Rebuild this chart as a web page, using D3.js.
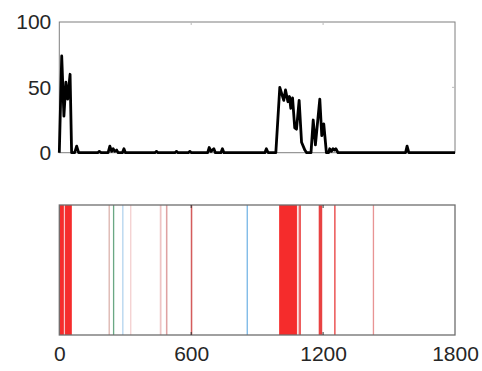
<!DOCTYPE html>
<html>
<head>
<meta charset="utf-8">
<script src="https://cdn.jsdelivr.net/npm/d3@7"></script>
<style>
  html, body { margin: 0; padding: 0; background: #fff; }
  svg { display: block; }
  text { font-family: "Liberation Sans", Arial, sans-serif; fill: #262626; }
</style>
</head>
<body>
<svg id="chart" width="482" height="371"></svg>
<script>
// ---- Data ----
const lineTimes  = [0, 11, 21, 30, 38, 49, 56, 70, 79, 88, 175, 182, 190, 222, 230, 238, 245, 252, 261, 268,
  287, 294, 301, 435, 442, 449, 526, 533, 540, 587, 594, 601, 675, 682, 690, 703, 710, 735, 742, 749,
  935, 942, 950, 985, 1003, 1012, 1021, 1029, 1040, 1047, 1053, 1061, 1071, 1079, 1091, 1102, 1117, 1125,
  1145, 1155, 1165, 1185, 1194, 1203, 1215, 1225, 1230, 1238, 1245, 1252, 1258, 1268, 1575, 1582, 1590, 1800];
const lineValues = [0, 74, 28, 54, 41, 60, 0, 0, 5, 0, 0, 1, 0, 0, 5, 1, 3, 1, 2, 0,
  0, 3, 0, 0, 1, 0, 0, 1, 0, 0, 1, 0, 0, 4, 1, 3, 0, 0, 3, 0,
  0, 3, 0, 0, 50, 45, 40, 48, 39, 43, 34, 42, 19, 18, 40, 8, 2, 0,
  0, 25, 6, 41, 13, 22, 0, 0, 3, 1, 3, 2, 3, 0, 0, 5, 0, 0];

const eventStarts = [0, 26, 21, 224, 244, 286, 322, 457, 485, 598, 852, 1000, 1084, 1091, 1180, 1250, 1426];
const eventEnds   = [21, 57, 26, 230, 250, 292, 328, 465, 492, 605, 858, 1081, 1090, 1099, 1196, 1257, 1432];
const eventColors = ["#f52c2c", "#f52c2c", "#f7c4c4", "#dcb4ae", "#6aa884", "#b4d4ee", "#f4d0d0", "#eec4c4",
  "#dfa2a2", "#d45c5c", "#7ab8e6", "#f52c2c", "#f5b8b8", "#ec4c4c", "#e84242", "#ec5a5a", "#e89494"];

const xTicks = [0, 600, 1200, 1800];
const yTicks = [0, 50, 100];

// ---- Layout ----
const svg = d3.select("#chart");
const left = 59.3, right = 455;
const top1 = 22, bot1 = 152.7;
const top2 = 205, bot2 = 335;
const axisColor = "#7f7f7f";

const x = d3.scaleLinear().domain([0, 1800]).range([left, right]);
const y = d3.scaleLinear().domain([0, 100]).range([bot1, top1]);

// ---- Top panel ----
const g1 = svg.append("g");
g1.append("rect").attr("x", left).attr("y", top1).attr("width", right - left).attr("height", bot1 - top1)
  .attr("fill", "#fff").attr("stroke", axisColor).attr("stroke-width", 1);

xTicks.slice(1, -1).forEach(t => {
  g1.append("line").attr("x1", x(t)).attr("x2", x(t)).attr("y1", top1).attr("y2", top1 + 3)
    .attr("stroke", "#bbb").attr("stroke-width", 1);
});
yTicks.slice(1, -1).forEach(t => {
  g1.append("line").attr("x1", right).attr("x2", right - 3).attr("y1", y(t)).attr("y2", y(t))
    .attr("stroke", "#bbb").attr("stroke-width", 1);
});

const yAxis = d3.axisLeft(y).tickValues(yTicks).tickSize(0).tickPadding(8).tickFormat(d3.format("d"));
const ya = g1.append("g").attr("transform", `translate(${left},0)`).call(yAxis);
ya.select(".domain").remove();
ya.selectAll("text").attr("font-size", 21).attr("font-family", "Liberation Sans, Arial, sans-serif")
  .attr("fill", "#2b2b2b");

const lineData = lineTimes.map((t, i) => [t, lineValues[i]]);
const line = d3.line().x(d => x(d[0])).y(d => y(d[1]));
g1.append("path").datum(lineData).attr("d", line).attr("fill", "none")
  .attr("stroke", "#000").attr("stroke-width", 2.8).attr("stroke-linejoin", "round");

// ---- Bottom panel ----
const g2 = svg.append("g");
g2.append("rect").attr("x", left).attr("y", top2).attr("width", right - left).attr("height", bot2 - top2)
  .attr("fill", "#fff");

const events = eventStarts.map((s, i) => ({ s, e: eventEnds[i], c: eventColors[i] }));
g2.selectAll("rect.ev").data(events).enter().append("rect").attr("class", "ev")
  .attr("x", d => x(d.s)).attr("width", d => Math.max(1, x(d.e) - x(d.s)))
  .attr("y", top2).attr("height", bot2 - top2).attr("fill", d => d.c);

g2.append("rect").attr("x", left).attr("y", top2).attr("width", right - left).attr("height", bot2 - top2)
  .attr("fill", "none").attr("stroke", "#6e6e6e").attr("stroke-width", 1.3);

xTicks.slice(1, -1).forEach(t => {
  g2.append("line").attr("x1", x(t)).attr("x2", x(t)).attr("y1", top2).attr("y2", top2 + 3)
    .attr("stroke", "#333").attr("stroke-width", 1);
  g2.append("line").attr("x1", x(t)).attr("x2", x(t)).attr("y1", bot2).attr("y2", bot2 - 3)
    .attr("stroke", "#333").attr("stroke-width", 1);
});

const xAxis = d3.axisBottom(x).tickValues(xTicks).tickSize(0).tickPadding(11).tickFormat(d3.format("d"));
const xa = g2.append("g").attr("transform", `translate(0,${bot2})`).call(xAxis);
xa.select(".domain").remove();
xa.selectAll("text").attr("font-size", 21).attr("font-family", "Liberation Sans, Arial, sans-serif")
  .attr("fill", "#2b2b2b");
</script>
</body>
</html>
